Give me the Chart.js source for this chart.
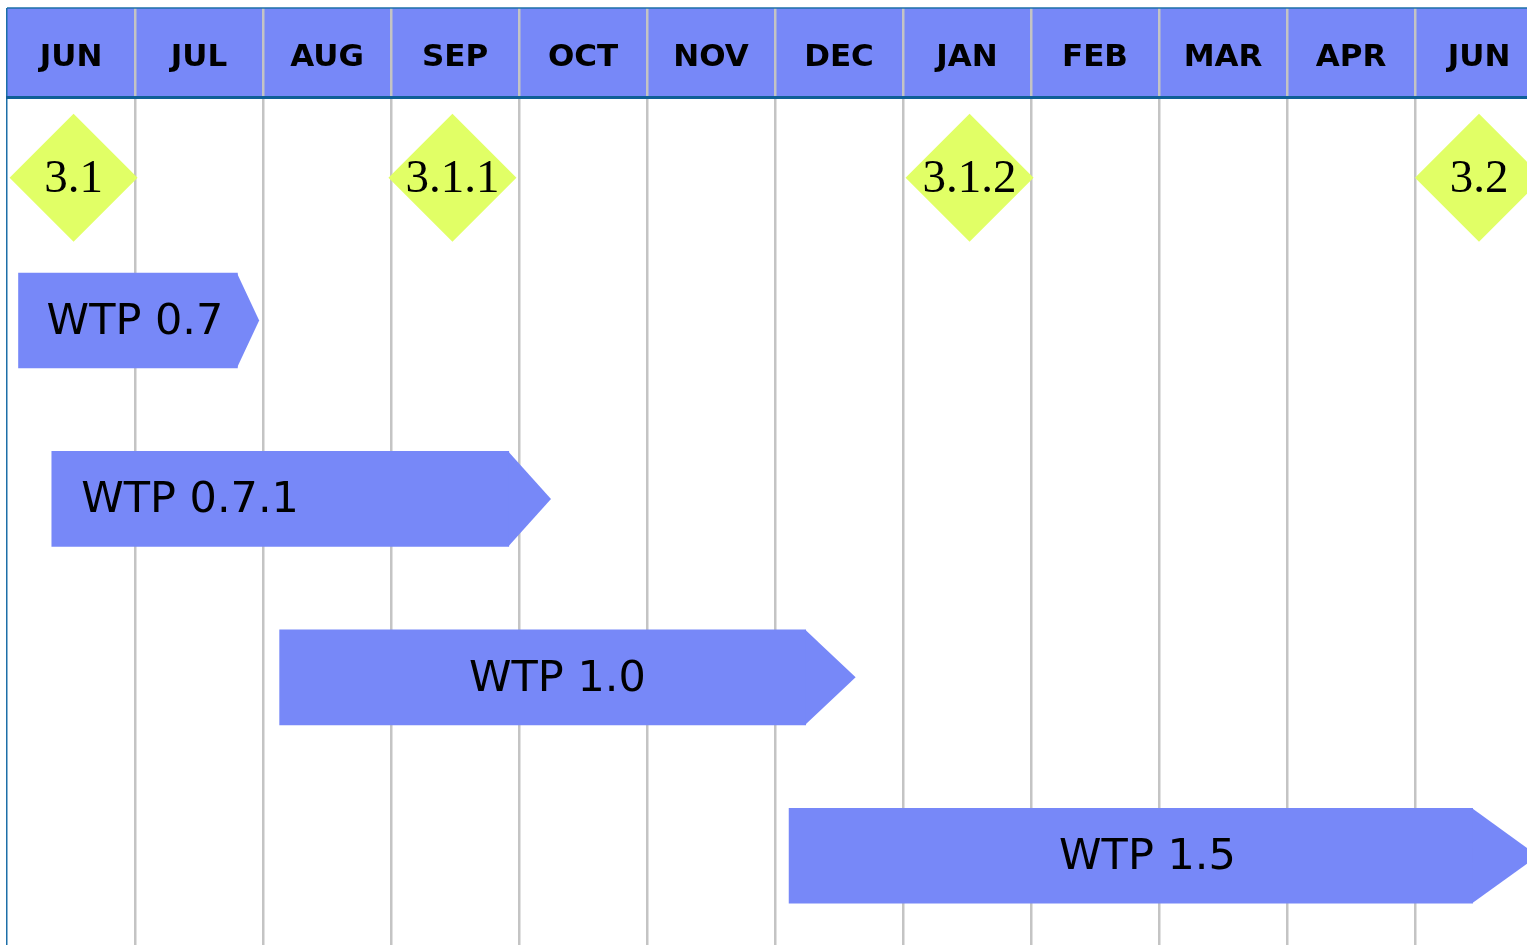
<!DOCTYPE html>
<html>
<head>
<meta charset="utf-8">
<title>WTP roadmap</title>
<script src="https://cdn.jsdelivr.net/npm/chart.js@4.4.1/dist/chart.umd.min.js"></script>
<style>
  html, body { margin: 0; padding: 0; background: #fff; }
  #wrap { width: 1527px; height: 945px; position: relative; }
</style>
</head>
<body>
<div id="wrap"><canvas id="roadmap"></canvas></div>
<script>
  const DOM = id => document.getElementById(id);

  // header months (the source skips MAY)
  const months = ['JUN', 'JUL', 'AUG', 'SEP', 'OCT', 'NOV', 'DEC', 'JAN', 'FEB', 'MAR', 'APR', 'JUN'];

  // milestones, x = months since the first JUN
  const milestoneLabels = ['3.1', '3.1.1', '3.1.2', '3.2'];
  const milestoneAt = [0.52, 3.48, 7.52, 11.5];

  // releases, in months
  const releaseLabels = ['WTP 0.7', 'WTP 0.7.1', 'WTP 1.0', 'WTP 1.5'];
  const releaseStart = [0.09, 0.35, 2.13, 6.11];
  const releaseEnd = [1.80, 3.92, 6.24, 11.45];
  const releaseTip = [1.97, 4.25, 6.63, 11.96];
  const releaseLabelAt = [1.0, 1.43, 4.30, 8.91];

  const BLUE = '#7788f8';
  const LIME = '#e1ff66';
  const GRID = '#c4c4c4';
  const EDGE = '#1d6fa8';
  const MILESTONE_ROW = 0.2;

  const headerTicks = months.flatMap((m, i) => [i, i + 0.5]);

  // --- header band, arrow heads, texts ---
  const roadmapPaint = {
    id: 'roadmapPaint',
    beforeDraw(chart) {
      const {ctx, chartArea, scales: {x}} = chart;
      const top = x.bottom - x.options.grid.tickLength;
      ctx.save();
      ctx.fillStyle = BLUE;
      ctx.fillRect(chartArea.left, top, chartArea.right - chartArea.left, x.bottom - top);
      ctx.restore();
    },
    afterDatasetsDraw(chart) {
      const {ctx, scales: {x}} = chart;
      ctx.save();

      chart.getDatasetMeta(1).data.forEach((bar, i) => {
        const {x: end, y, height} = bar.getProps(['x', 'y', 'height'], true);
        const tip = x.getPixelForValue(releaseTip[i]);
        ctx.fillStyle = BLUE;
        ctx.beginPath();
        ctx.moveTo(end - 0.5, y - height / 2);
        ctx.lineTo(tip, y);
        ctx.lineTo(end - 0.5, y + height / 2);
        ctx.closePath();
        ctx.fill();

        ctx.fillStyle = '#000';
        ctx.font = '43px "DejaVu Sans"';
        ctx.textAlign = 'center';
        ctx.textBaseline = 'middle';
        ctx.fillText(releaseLabels[i], x.getPixelForValue(releaseLabelAt[i]), y + 2);
      });

      chart.getDatasetMeta(0).data.forEach((pt, i) => {
        ctx.fillStyle = '#000';
        ctx.font = '47px "Liberation Serif"';
        ctx.textAlign = 'center';
        ctx.textBaseline = 'middle';
        ctx.fillText(milestoneLabels[i], pt.x, pt.y + 2);
      });
      ctx.restore();
    },
    afterDraw(chart) {
      const {ctx, chartArea, scales: {x}} = chart;
      const top = x.bottom - x.options.grid.tickLength;
      ctx.save();
      ctx.strokeStyle = EDGE;
      ctx.lineWidth = 1.5;
      ctx.beginPath();
      ctx.moveTo(chartArea.left, top);
      ctx.lineTo(chartArea.right, top);
      ctx.stroke();
      ctx.restore();
    }
  };

  new Chart(DOM('roadmap').getContext('2d'), {
    type: 'bar',
    data: {
      datasets: [
        {
          type: 'scatter',
          indexAxis: 'x',
          data: milestoneAt.map(v => ({x: v, y: MILESTONE_ROW})),
          pointStyle: 'rectRot',
          pointRadius: 64,
          pointHoverRadius: 64,
          backgroundColor: LIME,
          borderWidth: 0,
          clip: false
        },
        {
          type: 'bar',
          indexAxis: 'y',
          data: releaseStart.map((s, i) => ({x: [s, releaseEnd[i]], y: i + 1})),
          backgroundColor: BLUE,
          borderWidth: 0,
          barThickness: 95
        }
      ]
    },
    plugins: [roadmapPaint],
    options: {
      indexAxis: 'y',
      responsive: true,
      maintainAspectRatio: false,
      animation: false,
      events: [],
      layout: { autoPadding: false, padding: { left: 7, top: 90, right: 0, bottom: 0 } },
      plugins: { legend: { display: false }, tooltip: { enabled: false } },
      scales: {
        x: {
          type: 'linear',
          position: 'top',
          min: 0,
          max: 11.875,
          offset: false,
          afterBuildTicks: s => { s.ticks = headerTicks.map(v => ({value: v})); },
          grid: {
            offset: false,
            drawTicks: true,
            tickLength: 89.5,
            color: c => c.tick.value === 0 ? EDGE : (Number.isInteger(c.tick.value) ? GRID : 'rgba(0,0,0,0)'),
            lineWidth: c => c.tick.value === 0 ? 1.5 : 2.5
          },
          border: { display: true, color: '#0f5f97', width: 3 },
          ticks: {
            autoSkip: false,
            maxRotation: 0,
            minRotation: 0,
            mirror: true,
            padding: -41,
            color: '#000',
            font: { family: 'DejaVu Sans', size: 31, weight: 'bold', lineHeight: 0.1 },
            callback: v => Number.isInteger(v) ? '' : months[Math.floor(v)]
          }
        },
        y: {
          type: 'linear',
          display: false,
          reverse: true,
          min: -0.25,
          max: 4.5,
          offset: false,
          grid: { offset: false }
        }
      }
    }
  });
</script>
</body>
</html>
